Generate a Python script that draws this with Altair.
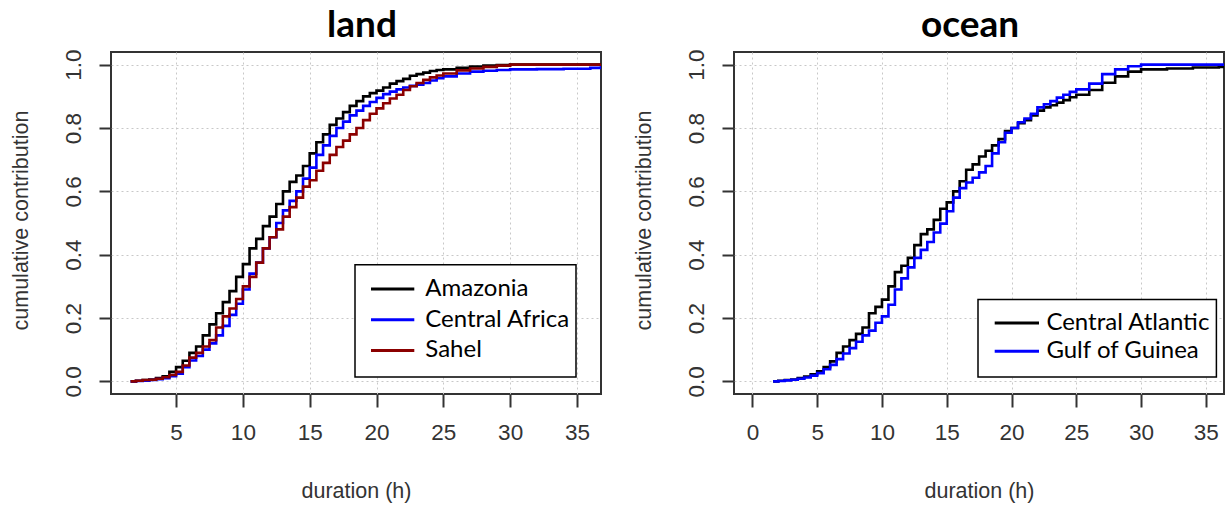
import altair as alt
import pandas as pd

# ---------------- data ----------------
land_x = [1.6, 2.0, 2.5, 3.0, 3.5, 4.0, 4.5, 5.0, 5.5, 6.0, 6.5, 7.0, 7.5, 8.0, 8.5,
          9.0, 9.5, 10.0, 10.5, 11.0, 11.5, 12.0, 12.5, 13.0, 13.5, 14.0, 14.5, 15.0,
          15.5, 16.0, 16.5, 17.0, 17.5, 18.0, 18.5, 19.0, 19.5, 20.0, 20.5, 21.0, 21.5,
          22.0, 22.5, 23.0, 23.5, 24.0, 24.5, 25.0, 26.0, 27.0, 28.0, 29.0, 30.0, 32.0,
          34.0, 36.0, 36.8]
amazonia = [0.0, 0.002, 0.004, 0.006, 0.01, 0.016, 0.03, 0.045, 0.065, 0.09, 0.11, 0.145,
            0.18, 0.215, 0.25, 0.285, 0.33, 0.37, 0.42, 0.45, 0.49, 0.52, 0.56, 0.6, 0.63,
            0.65, 0.68, 0.72, 0.755, 0.78, 0.81, 0.83, 0.85, 0.87, 0.885, 0.9, 0.91, 0.918,
            0.928, 0.94, 0.948, 0.955, 0.965, 0.97, 0.975, 0.98, 0.983, 0.985, 0.99, 0.994,
            0.997, 0.999, 1.0, 1.0, 1.0, 1.0, 1.0]
central_africa = [0.0, 0.001, 0.002, 0.004, 0.007, 0.01, 0.016, 0.024, 0.045, 0.066, 0.08,
                  0.1, 0.12, 0.145, 0.175, 0.21, 0.245, 0.29, 0.34, 0.375, 0.42, 0.455, 0.5,
                  0.54, 0.57, 0.6, 0.64, 0.675, 0.715, 0.745, 0.775, 0.8, 0.82, 0.84, 0.855,
                  0.87, 0.882, 0.895, 0.907, 0.915, 0.922, 0.928, 0.933, 0.937, 0.942, 0.95,
                  0.957, 0.963, 0.972, 0.978, 0.981, 0.983, 0.985, 0.986, 0.987, 0.99, 1.0]
sahel = [0.0, 0.002, 0.004, 0.005, 0.008, 0.013, 0.02, 0.03, 0.05, 0.075, 0.09, 0.11, 0.13,
         0.17, 0.205, 0.23, 0.26, 0.3, 0.33, 0.375, 0.42, 0.455, 0.48, 0.52, 0.55, 0.58,
         0.615, 0.635, 0.665, 0.69, 0.715, 0.74, 0.76, 0.78, 0.8, 0.825, 0.845, 0.862,
         0.878, 0.893, 0.905, 0.92, 0.932, 0.942, 0.952, 0.96, 0.966, 0.972, 0.982, 0.988,
         0.993, 0.997, 1.0, 1.0, 1.0, 1.0, 1.0]

ocean_x = [1.6, 2.0, 2.5, 3.0, 3.5, 4.0, 4.5, 5.0, 5.5, 6.0, 6.5, 7.0, 7.5, 8.0, 8.5,
           9.0, 9.5, 10.0, 10.5, 11.0, 11.5, 12.0, 12.5, 13.0, 13.5, 14.0, 14.5, 15.0,
           15.5, 16.0, 16.5, 17.0, 17.5, 18.0, 18.5, 19.0, 19.5, 20.0, 20.5, 21.0, 21.5,
           22.0, 22.5, 23.0, 23.5, 24.0, 24.5, 25.0, 26.0, 27.0, 28.0, 29.0, 30.0, 32.0,
           34.0, 36.0, 36.4]
central_atlantic = [0.0, 0.002, 0.004, 0.006, 0.01, 0.015, 0.022, 0.032, 0.045, 0.063, 0.09,
                    0.11, 0.13, 0.15, 0.17, 0.215, 0.235, 0.258, 0.3, 0.345, 0.365, 0.39,
                    0.43, 0.465, 0.48, 0.51, 0.545, 0.565, 0.6, 0.632, 0.668, 0.685, 0.71,
                    0.728, 0.745, 0.765, 0.79, 0.8, 0.815, 0.825, 0.84, 0.855, 0.865, 0.872,
                    0.88, 0.888, 0.897, 0.905, 0.92, 0.943, 0.963, 0.978, 0.985, 0.988,
                    0.991, 0.993, 0.995]
gulf_of_guinea = [0.0, 0.001, 0.003, 0.005, 0.008, 0.012, 0.018, 0.026, 0.038, 0.052, 0.07,
                  0.088, 0.105, 0.125, 0.145, 0.16, 0.185, 0.205, 0.242, 0.29, 0.325, 0.36,
                  0.39, 0.415, 0.44, 0.47, 0.498, 0.537, 0.58, 0.61, 0.628, 0.643, 0.66,
                  0.68, 0.72, 0.755, 0.785, 0.8, 0.818, 0.83, 0.845, 0.865, 0.875, 0.885,
                  0.896, 0.905, 0.914, 0.922, 0.94, 0.97, 0.985, 0.995, 1.0, 1.0, 1.0, 1.0,
                  1.0]

land_names = ["Amazonia", "Central Africa", "Sahel"]
land_colors = ["#000000", "#0000FF", "#8B0000"]
ocean_names = ["Central Atlantic", "Gulf of Guinea"]
ocean_colors = ["#000000", "#0000FF"]

land_ticks = [5, 10, 15, 20, 25, 30, 35]
ocean_ticks = [0, 5, 10, 15, 20, 25, 30, 35]
y_ticks = [0.0, 0.2, 0.4, 0.6, 0.8, 1.0]

# ---------------- styling ----------------
AXIS_FONT = "Liberation Sans"
LEG_FONT = "Lato"
TXT = "#333333"
PW, PH = 490, 342


def panel(title, dx, xs, series, names, colors, xdomain, xticks, leg):
    xaxis = alt.Axis(values=xticks, format="d", grid=True, gridColor="#c8c8c8",
                     gridDash=[2, 3], gridWidth=1, domain=False, ticks=True,
                     tickSize=13, tickWidth=2, tickColor=TXT, labelFont=AXIS_FONT,
                     labelFontSize=22.5, labelColor=TXT, labelPadding=32,
                     labelBaseline="alphabetic", labelFlush=False,
                     title="duration (h)", titleFont=AXIS_FONT, titleFontSize=21.5,
                     titleFontWeight="normal", titleColor=TXT, titleY=103,
                     titleBaseline="alphabetic")
    yaxis = alt.Axis(values=y_ticks, format=".1f", grid=True, gridColor="#c8c8c8",
                     gridDash=[2, 3], gridWidth=1, domain=False, ticks=True,
                     tickSize=12, tickWidth=2, tickColor=TXT, labelFont=AXIS_FONT,
                     labelFontSize=22.5, labelColor=TXT, labelAngle=270,
                     labelAlign="center", labelBaseline="alphabetic", labelPadding=19,
                     labelFlush=False,
                     title="cumulative contribution", titleFont=AXIS_FONT,
                     titleFontSize=21.5, titleFontWeight="normal", titleColor=TXT,
                     titleAngle=270, titleAlign="center", titleBaseline="alphabetic",
                     titleX=-84, titleY=168)
    xscale = alt.Scale(domain=xdomain, nice=False, zero=False)
    yscale = alt.Scale(domain=[-0.04, 1.04], nice=False, zero=False)
    layers = []
    for i, (name, ys) in enumerate(zip(names, series)):
        df = pd.DataFrame({"duration": xs, "value": ys, "series": name})
        if i == 0:
            enc = dict(x=alt.X("duration:Q", scale=xscale, axis=xaxis),
                       y=alt.Y("value:Q", scale=yscale, axis=yaxis))
        else:
            enc = dict(x=alt.X("duration:Q", scale=xscale),
                       y=alt.Y("value:Q", scale=yscale))
        layers.append(alt.Chart(df).mark_line(interpolate="step-after", strokeWidth=2.6,
                                              color=colors[i], clip=True).encode(**enc))
    # legend box
    bx0, bx1, by0, by1, lx0, lx1, tx, ry0, rstep = leg
    box = alt.Chart(pd.DataFrame({"k": [0]})).mark_rect(
        fill="white", stroke="black", strokeWidth=1.5).encode(
        x=alt.value(bx0), x2=alt.value(bx1), y=alt.value(by0), y2=alt.value(by1))
    layers.append(box)
    for i, name in enumerate(names):
        ldf = pd.DataFrame({"series": [name]})
        yy = ry0 + i * rstep
        layers.append(alt.Chart(ldf).mark_rule(color=colors[i], strokeWidth=3).encode(
            x=alt.value(lx0), x2=alt.value(lx1), y=alt.value(yy)))
        layers.append(alt.Chart(ldf).mark_text(align="left", baseline="middle",
                                               font=LEG_FONT, fontSize=24,
                                               color="black").encode(
            x=alt.value(tx), y=alt.value(yy), text="series:N"))
    return alt.layer(*layers).properties(
        width=PW, height=PH,
        title=alt.TitleParams(title, font=LEG_FONT, fontSize=37, fontWeight="bold",
                              color="black", anchor="middle", frame="group",
                              baseline="alphabetic", offset=-25, dx=dx))


land = panel("land", 6, land_x, [amazonia, central_africa, sahel], land_names,
             land_colors, [0.13, 36.8], land_ticks,
             (244, 465, 212.7, 325, 260, 303.3, 314.3, 237, 30.7))
ocean = panel("ocean", -9, ocean_x, [central_atlantic, gulf_of_guinea], ocean_names,
              ocean_colors, [-1.42, 36.4], ocean_ticks,
              (244, 482.4, 247.6, 325, 260.7, 305, 312.4, 271, 28.3))

chart = alt.hconcat(land, ocean, spacing=133, bounds="flush").properties(
    padding={"left": 9, "top": 6, "right": 0, "bottom": 0}
).configure(background="white").configure_view(stroke="#333333", strokeWidth=2)

chart.save("out.html", embed_options={"renderer": "svg", "actions": False})
